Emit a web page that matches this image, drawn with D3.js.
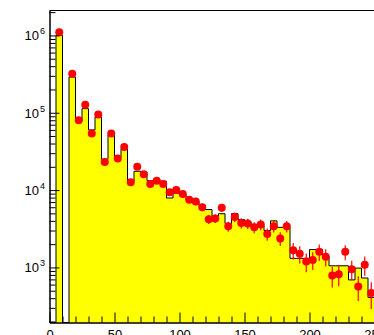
<!DOCTYPE html>
<html>
<head>
<meta charset="utf-8">
<script src="https://cdn.jsdelivr.net/npm/d3@7/dist/d3.min.js"></script>
<style>
  body { margin: 0; background: #fff; }
  svg text { font-family: "Liberation Sans", Arial, sans-serif; fill: #000; }
</style>
</head>
<body>
<svg id="chart" width="374" height="335"></svg>
<script>
// bin low edges (width 5)
const binLow = [0,5,10,15,20,25,30,35,40,45,50,55,60,65,70,75,80,85,90,95,
  100,105,110,115,120,125,130,135,140,145,150,155,160,165,170,175,180,185,190,195,
  200,205,210,215,220,225,230,235,240,245]
const binWidth = 5

// filled histogram (simulation)
const histVals = [0,1.0e6,0,2.9e5,7.8e4,1.13e5,6.0e4,8.8e4,2.5e4,5.2e4,
  2.7e4,3.4e4,1.3e4,1.75e4,1.7e4,1.32e4,1.32e4,1.3e4,7.9e3,9.1e3,
  9.0e3,7.5e3,7.1e3,6.3e3,5.6e3,4.6e3,4.95e3,3.7e3,4.95e3,4.15e3,
  3.9e3,3.6e3,3.5e3,3.0e3,4.0e3,3.3e3,3.3e3,1.31e3,1.31e3,1.31e3,
  1.7e3,1.7e3,1.4e3,1.05e3,1.05e3,1.05e3,690,980,730,410]

// data points
const dataVals = [0,1.1e6,0,3.2e5,8.0e4,1.27e5,5.4e4,9.5e4,2.3e4,5.4e4,
  2.56e4,3.6e4,1.26e4,2.0e4,1.6e4,1.2e4,1.32e4,1.2e4,9.4e3,1.0e4,
  8.9e3,7.5e3,7.1e3,6.0e3,4.2e3,4.3e3,5.9e3,3.4e3,4.5e3,3.76e3,
  3.7e3,3.3e3,3.6e3,2.7e3,3.4e3,2.37e3,3.4e3,1.67e3,1.5e3,1.19e3,
  1.25e3,1.59e3,1.37e3,785,818,1.59e3,950,568,1.08e3,467]

// relative errors on data points
const dataErr = [0,0.01,0,0.02,0.03,0.03,0.03,0.03,0.05,0.04,
  0.05,0.05,0.07,0.06,0.07,0.07,0.07,0.08,0.09,0.09,
  0.09,0.1,0.1,0.11,0.13,0.13,0.12,0.15,0.14,0.15,
  0.15,0.16,0.16,0.18,0.17,0.2,0.17,0.24,0.25,0.27,
  0.26,0.24,0.25,0.3,0.3,0.22,0.28,0.35,0.28,0.38]

const xTicksMajor = [0, 50, 100, 150, 200, 250]
const yTicksMajor = [1e3, 1e4, 1e5, 1e6]
const yTickLabels = ["3", "4", "5", "6"]

const svg = d3.select("#chart")
const W = 374, H = 335

const x = d3.scaleLinear().domain([0, 250]).range([49.5, 374.5])
const y = d3.scaleLog().domain([194, 2.1e6]).range([322.5, 10.5])
const bottom = y.range()[0]

const bins = binLow.map((b, i) => ({x: b, v: histVals[i]}))
bins.push({x: binLow[binLow.length - 1] + binWidth, v: histVals[histVals.length - 1]})

const area = d3.area()
    .x(d => x(d.x))
    .y0(bottom)
    .y1(d => d.v > 0 ? y(d.v) : bottom)
    .curve(d3.curveStepAfter)

const line = d3.line()
    .x(d => x(d.x))
    .y(d => d.v > 0 ? y(d.v) : bottom)
    .curve(d3.curveStepAfter)

svg.append("path")
    .datum(bins)
    .attr("d", area)
    .attr("fill", "#ffff00")

svg.append("path")
    .datum(bins)
    .attr("d", line)
    .attr("fill", "none")
    .attr("stroke", "#000")
    .attr("stroke-width", 1)

// data points
const pts = binLow.map((b, i) => ({x: b + binWidth / 2, v: dataVals[i], e: dataErr[i]}))
    .filter(d => d.v > 0)

const g = svg.append("g")
g.selectAll("line.err")
    .data(pts)
    .join("line")
    .attr("class", "err")
    .attr("x1", d => x(d.x)).attr("x2", d => x(d.x))
    .attr("y1", d => y(d.v * (1 + d.e)))
    .attr("y2", d => y(d.v * (1 - d.e)))
    .attr("stroke", "#ff0000")
    .attr("stroke-width", 1.2)

g.selectAll("circle")
    .data(pts)
    .join("circle")
    .attr("cx", d => x(d.x))
    .attr("cy", d => y(d.v))
    .attr("r", 4)
    .attr("fill", "#ff0000")

// frame
svg.append("line").attr("x1", 49.5).attr("x2", 374.5).attr("y1", 10.5).attr("y2", 10.5).attr("stroke", "#000")

// x axis
const xMinor = []
for (let v = 0; v <= 250; v += 10) if (v % 50 !== 0) xMinor.push(v)

const xAx = svg.append("g").attr("transform", `translate(0,${bottom})`)
xAx.call(d3.axisBottom(x).tickValues(xTicksMajor).tickSize(-10).tickSizeOuter(0).tickPadding(7).tickFormat(d3.format("d")))
xAx.append("g").call(d3.axisBottom(x).tickValues(xMinor).tickSize(-6).tickSizeOuter(0).tickFormat(""))
xAx.selectAll("text").attr("font-size", 13).attr("font-family", "Liberation Sans, Arial, sans-serif")
xAx.selectAll("path.domain").attr("stroke", "#000")

// y axis
const yMinor = []
for (let dec = 100; dec <= 1e6; dec *= 10)
    for (let m = 2; m <= 9; m++) {
        const v = m * dec
        if (v >= y.domain()[0] && v <= y.domain()[1]) yMinor.push(v)
    }

const yAx = svg.append("g").attr("transform", "translate(49.5,0)")
yAx.call(d3.axisLeft(y).tickValues(yTicksMajor).tickSize(-10).tickSizeOuter(0).tickFormat(""))
yAx.append("g").call(d3.axisLeft(y).tickValues(yMinor).tickSize(-6).tickSizeOuter(0).tickFormat(""))
yAx.selectAll("path.domain").attr("stroke", "#000")

const lab = svg.append("g")
yTicksMajor.forEach((v, i) => {
    const t = lab.append("text")
        .attr("x", 39)
        .attr("y", y(v) + 5)
        .attr("text-anchor", "end")
        .attr("font-size", 13)
        .text("10")
    lab.append("text")
        .attr("x", 40)
        .attr("y", y(v) - 1)
        .attr("font-size", 9)
        .text(yTickLabels[i])
})
</script>
</body>
</html>
